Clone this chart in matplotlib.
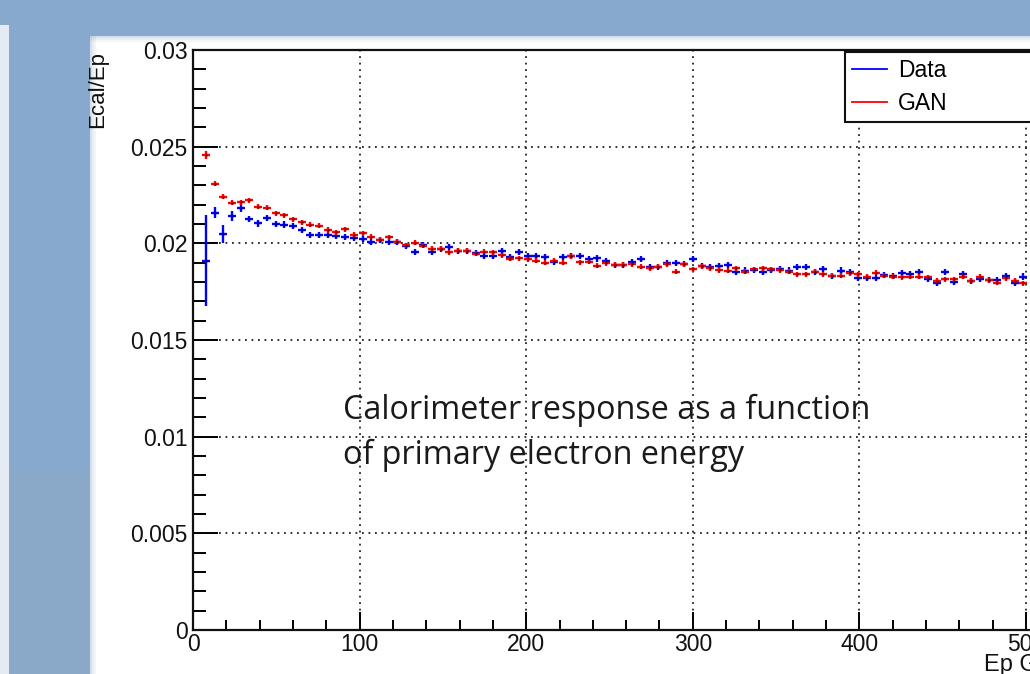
import numpy as np
import matplotlib
matplotlib.use("Agg")
import matplotlib.pyplot as plt
from matplotlib.patches import Rectangle
from matplotlib.lines import Line2D
from matplotlib.ticker import MultipleLocator, FixedLocator, FixedFormatter

# ---------------- data ----------------
bin_start = 7.8      # GeV, centre of first bin
bin_width = 5.22     # GeV

gan = [0.02457, 0.02307, 0.02241, 0.02210, 0.02212, 0.02224, 0.02190, 0.02185, 0.02155, 0.02145,
       0.02124, 0.02110, 0.02095, 0.02090, 0.02069, 0.02058, 0.02072, 0.02045, 0.02052, 0.02035,
       0.02019, 0.02031, 0.02007, 0.01990, 0.02004, 0.01988, 0.01971, 0.01971, 0.01953, 0.01962,
       0.01962, 0.01945, 0.01957, 0.01953, 0.01938, 0.01920, 0.01922, 0.01917, 0.01910, 0.01900,
       0.01910, 0.01900, 0.01934, 0.01902, 0.01905, 0.01883, 0.01897, 0.01888, 0.01888, 0.01893,
       0.01879, 0.01871, 0.01879, 0.01893, 0.01853, 0.01891, 0.01867, 0.01881, 0.01871, 0.01862,
       0.01859, 0.01871, 0.01853, 0.01866, 0.01871, 0.01866, 0.01862, 0.01853, 0.01840, 0.01840,
       0.01853, 0.01841, 0.01833, 0.01833, 0.01845, 0.01841, 0.01828, 0.01848, 0.01833, 0.01828,
       0.01824, 0.01828, 0.01828, 0.01824, 0.01807, 0.01814, 0.01815, 0.01828, 0.01807, 0.01828,
       0.01810, 0.01797, 0.01819, 0.01807, 0.01793]

data = [0.01910, 0.02159, 0.02048, 0.02143, 0.02181, 0.02126, 0.02103, 0.02133, 0.02100, 0.02097,
        0.02090, 0.02069, 0.02042, 0.02042, 0.02043, 0.02038, 0.02031, 0.02026, 0.02024, 0.02007,
        0.02018, 0.02007, 0.02007, 0.01987, 0.01957, 0.01990, 0.01957, 0.01971, 0.01979, 0.01962,
        0.01962, 0.01948, 0.01936, 0.01936, 0.01962, 0.01928, 0.01957, 0.01934, 0.01934, 0.01928,
        0.01905, 0.01928, 0.01934, 0.01934, 0.01917, 0.01922, 0.01910, 0.01888, 0.01888, 0.01905,
        0.01917, 0.01879, 0.01879, 0.01897, 0.01900, 0.01891, 0.01917, 0.01883, 0.01876, 0.01883,
        0.01888, 0.01850, 0.01859, 0.01862, 0.01850, 0.01862, 0.01866, 0.01859, 0.01879, 0.01876,
        0.01853, 0.01867, 0.01833, 0.01859, 0.01850, 0.01822, 0.01819, 0.01819, 0.01836, 0.01831,
        0.01845, 0.01841, 0.01850, 0.01815, 0.01797, 0.01850, 0.01798, 0.01840, 0.01807, 0.01815,
        0.01810, 0.01810, 0.01831, 0.01797, 0.01828]

data_err_first = [0.00235, 0.00028, 0.00047, 0.00026, 0.00020]
data_err_typ = 0.00016
gan_err_first = [0.00020]
gan_err_typ = 0.00013
x_half = 2.4  # GeV, half length of the horizontal error bar

y_ticks = [0, 0.005, 0.01, 0.015, 0.02, 0.025, 0.03]
y_labels = ["0", "0.005", "0.01", "0.015", "0.02", "0.025", "0.03"]
x_ticks = [0, 100, 200, 300, 400, 500]
x_labels = ["0", "100", "200", "300", "400", "500"]

# ---------------- figure ----------------
W, H = 1030, 674
fig = plt.figure(figsize=(W / 100, H / 100), dpi=100, facecolor="white")

def frect(x, y, w, h, **kw):
    """rectangle in pixel coordinates measured from the top-left"""
    fig.patches.append(Rectangle((x / W, 1 - (y + h) / H), w / W, h / H,
                                 transform=fig.transFigure, zorder=-5, **kw))

slide_blue = "#86a9cd"
frect(0, 0, W, 36, facecolor=slide_blue, edgecolor="none")
frect(0, 25, 9, H, facecolor="#e4ebf3", edgecolor="none")
frect(9, 25, 81, H, facecolor=slide_blue, edgecolor="none")
frect(9, 470, 81, H, facecolor="#8aa8c8", edgecolor="none")
# soft edges
for i, a in enumerate([0.35, 0.2, 0.1]):
    frect(90 + i * 2, 36, 2, H, facecolor=slide_blue, edgecolor="none", alpha=a)
    frect(90, 36 + i * 2, W, 2, facecolor=slide_blue, edgecolor="none", alpha=a)

# axes placement
x0_px, y_top_px, y_bot_px = 193, 50, 630
px_per_gev = 1.666
xmax = 520
ax = fig.add_axes([x0_px / W, 1 - y_bot_px / H, xmax * px_per_gev / W,
                   (y_bot_px - y_top_px) / H])
ax.set_xlim(0, xmax)
ax.set_ylim(0, 0.03)
ax.set_facecolor("white")

n = len(gan)
energy = bin_start + bin_width * np.arange(n)
data_err = data_err_first + [data_err_typ] * (n - len(data_err_first))
gan_err = gan_err_first + [gan_err_typ] * (n - len(gan_err_first))

ax.errorbar(energy, data, xerr=x_half, yerr=data_err, fmt="none",
            ecolor="#0000ff", elinewidth=1.7, capsize=0, zorder=3)
ax.errorbar(energy, gan, xerr=x_half, yerr=gan_err, fmt="none",
            ecolor="#ff0000", elinewidth=1.7, capsize=0, zorder=4)
ax.plot(energy, data, ls="none", marker="s", ms=1.4, mfc="#000055", mec="none", zorder=5)
ax.plot(energy, gan, ls="none", marker="s", ms=1.4, mfc="#550000", mec="none", zorder=5)

# ticks
ax.yaxis.set_major_locator(FixedLocator(y_ticks))
ax.yaxis.set_major_formatter(FixedFormatter(y_labels))
ax.yaxis.set_minor_locator(MultipleLocator(0.001))
ax.xaxis.set_major_locator(FixedLocator(x_ticks))
ax.xaxis.set_major_formatter(FixedFormatter(x_labels))
ax.xaxis.set_minor_locator(MultipleLocator(20))
ax.tick_params(axis="y", which="major", direction="in", length=18, width=1.4, pad=4)
ax.tick_params(axis="y", which="minor", direction="in", length=9, width=1.4)
ax.tick_params(axis="x", which="major", direction="in", length=13, width=1.4, pad=2)
ax.tick_params(axis="x", which="minor", direction="in", length=7, width=1.4)
for lab in ax.get_xticklabels() + ax.get_yticklabels():
    lab.set_fontfamily("Liberation Sans")
    lab.set_fontsize(16.5)
    lab.set_color("#111111")

ax.grid(True, which="major", color="#222222", linestyle=(0, (1, 2.6)), linewidth=1.3)
ax.set_axisbelow(True)
for s in ["left", "bottom", "top", "right"]:
    ax.spines[s].set_linewidth(1.6)
    ax.spines[s].set_color("#111111")

# axis titles (ROOT style, at the end of each axis)
fig.text(98 / W, 1 - 51 / H, "Ecal/Ep", rotation=90, ha="center", va="top",
         fontfamily="Liberation Sans", fontsize=16, color="#111111")
fig.text(984 / W, 1 - 676 / H, "Ep GeV", ha="left", va="bottom",
         fontfamily="Liberation Sans", fontsize=17, color="#111111")

# legend
handles = [Line2D([], [], color="#0000ff", lw=1.3), Line2D([], [], color="#ff0000", lw=1.3)]
leg = fig.legend(handles, ["Data", "GAN"], loc="upper left",
                 bbox_to_anchor=(845 / W, 1 - 123 / H, 230 / W, 71 / H), mode="expand",
                 frameon=True, fancybox=False,
                 edgecolor="#111111", framealpha=1, handlelength=1.55, handletextpad=0.45,
                 borderpad=0.3, labelspacing=0.43, borderaxespad=0,
                 prop=dict(family="Liberation Sans", size=16.5))
leg.get_frame().set_linewidth(1.5)

# slide annotation
fig.text(343 / W, 1 - 433 / H, "Calorimeter response as a function\nof primary electron energy",
         ha="left", va="center", fontfamily="Open Sans", fontsize=23.3, color="#1a1a1a",
         linespacing=1.45)

fig.savefig("out.png", dpi=100, facecolor=fig.get_facecolor())
